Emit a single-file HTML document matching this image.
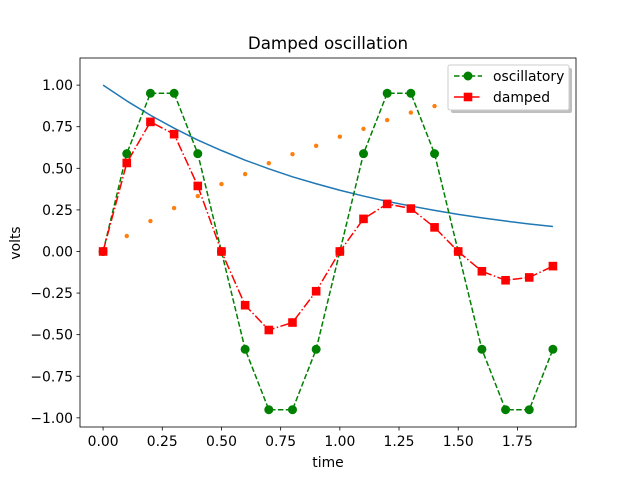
<!DOCTYPE html>
<html><head><meta charset="utf-8"><style>
body{margin:0;background:#fff;}
svg{display:block;font-family:"DejaVu Sans","Liberation Sans",sans-serif;}
</style></head><body>
<svg id="chart" width="640" height="480" xmlns="http://www.w3.org/2000/svg">
<rect width="640" height="480" fill="#fff"/>
<text x="328" y="49" font-size="16.7" text-anchor="middle">Damped oscillation</text>
<g id="plot"></g>
<text x="328" y="467" font-size="13.9" text-anchor="middle">time</text>
<text transform="translate(20,243) rotate(-90)" font-size="13.9" text-anchor="middle">volts</text>
</svg>
<script>
const tVals=[0,0.1,0.2,0.3,0.4,0.5,0.6,0.7,0.8,0.9,1.0,1.1,1.2,1.3,1.4,1.5,1.6,1.7,1.8,1.9];
const oscVals=[0,0.588,0.951,0.951,0.588,0,-0.588,-0.951,-0.951,-0.588,0,0.588,0.951,0.951,0.588,0,-0.588,-0.951,-0.951,-0.588];
const dampVals=[0,0.532,0.779,0.705,0.394,0,-0.323,-0.472,-0.427,-0.239,0,0.196,0.286,0.258,0.145,0,-0.119,-0.173,-0.156,-0.088];
const expVals=[1,0.905,0.819,0.741,0.670,0.607,0.549,0.497,0.449,0.407,0.368,0.333,0.301,0.273,0.247,0.223,0.202,0.183,0.165,0.150];
const riseVals=[0,0.093,0.183,0.261,0.333,0.405,0.465,0.531,0.585,0.635,0.69,0.737,0.79,0.835,0.874,0.91,0.945,0.98,1.01,1.04];
const xTicks=[0,0.25,0.5,0.75,1.0,1.25,1.5,1.75];
const xTickLabels=["0.00","0.25","0.50","0.75","1.00","1.25","1.50","1.75"];
const yTicks=[-1,-0.75,-0.5,-0.25,0,0.25,0.5,0.75,1.0];
const yTickLabels=["−1.00","−0.75","−0.50","−0.25","0.00","0.25","0.50","0.75","1.00"];

const L=80,R=576,T=58,B=427;
const X0=-0.0975,X1=1.9975,Y0=-1.055,Y1=1.163;
const x=v=>L+(v-X0)/(X1-X0)*(R-L);
const y=v=>B-(v-Y0)/(Y1-Y0)*(B-T);
const NS="http://www.w3.org/2000/svg";
const g=document.getElementById('plot');
function mk(tag,attrs,parent){const e=document.createElementNS(NS,tag);for(const k in attrs)e.setAttribute(k,attrs[k]);(parent||g).appendChild(e);return e;}

xTicks.forEach((v,i)=>{
  const l=mk('line',{x1:x(v),x2:x(v),y1:B,y2:B+3.5,stroke:'#000','stroke-width':0.8});
  
  
  const t=mk('text',{x:x(v),y:B+19,'font-size':13.9,'text-anchor':'middle'});
  t.textContent=xTickLabels[i];
  
  
});
yTicks.forEach((v,i)=>{
  const l=mk('line',{x1:L-3.5,x2:L,y1:y(v),y2:y(v),stroke:'#000','stroke-width':0.8});
  
  
  const t=mk('text',{x:L-7,y:y(v)+5,'font-size':13.9,'text-anchor':'end'});
  t.textContent=yTickLabels[i];
  
  
});

function pts(arr){return tVals.map((t,i)=>x(t)+','+y(arr[i])).join(' ');}
const e1=mk('polyline',{points:pts(expVals),fill:'none',stroke:'#1f77b4','stroke-width':1.5});


riseVals.forEach((v,i)=>{
  const c=mk('circle',{cx:x(tVals[i]),cy:y(v),r:2.2,fill:'#ff7f0e'});
  
  
});
const o=mk('polyline',{points:pts(oscVals),fill:'none',stroke:'green','stroke-width':1.5,'stroke-dasharray':'5.5,2.4'});


oscVals.forEach((v,i)=>{
  const c=mk('circle',{cx:x(tVals[i]),cy:y(v),r:4.5,fill:'green'});
  
  
});
const d=mk('polyline',{points:pts(dampVals),fill:'none',stroke:'red','stroke-width':1.5,'stroke-dasharray':'9.6,2.4,1.5,2.4'});


dampVals.forEach((v,i)=>{
  const r=mk('rect',{x:x(tVals[i])-4.3,y:y(v)-4.3,width:8.6,height:8.6,fill:'red'});
  
  
});
const f=mk('rect',{x:L,y:T,width:R-L,height:B-T,fill:'none',stroke:'#000','stroke-width':0.8});



const lg=mk('g',{});


mk('rect',{x:451,y:68,width:121,height:45,rx:2,fill:'#808080',opacity:0.5},lg);
mk('rect',{x:448,y:65,width:121,height:45,rx:2,fill:'#fff',stroke:'#ccc','stroke-width':1},lg);
const e1g=mk('g',{},lg);


mk('line',{x1:454,x2:482,y1:76,y2:76,stroke:'green','stroke-width':1.5,'stroke-dasharray':'5.5,2.4'},e1g);
mk('circle',{cx:468,cy:76,r:4.5,fill:'green'},e1g);
const t1=mk('text',{x:493,y:81,'font-size':13.9},e1g);t1.textContent='oscillatory';
const e2g=mk('g',{},lg);


mk('line',{x1:454,x2:482,y1:97,y2:97,stroke:'red','stroke-width':1.5,'stroke-dasharray':'9.6,2.4,1.5,2.4'},e2g);
mk('rect',{x:463.7,y:92.7,width:8.6,height:8.6,fill:'red'},e2g);
const t2=mk('text',{x:493,y:102,'font-size':13.9},e2g);t2.textContent='damped';
</script>
</body></html>
